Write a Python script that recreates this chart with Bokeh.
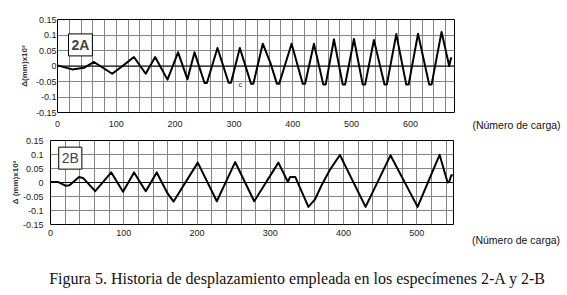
from bokeh.plotting import figure
from bokeh.layouts import column, row
from bokeh.models import Range1d, Span, Label, FixedTicker
from bokeh.core.properties import value
from bokeh.embed import file_html
from bokeh.resources import INLINE

# ---- data ----
a_x = [0, 25, 45, 62, 93, 112, 130, 150, 166, 187, 205, 221, 233, 250, 254, 272, 291, 295,
       310, 329, 333, 349, 362, 373, 377, 398, 417, 421, 436, 452, 456, 470, 485, 489, 504,
       519, 523, 538, 556, 560, 576, 593, 597, 613, 632, 636, 653, 666, 669, 671]
a_y = [0.002, -0.011, -0.006, 0.013, -0.025, 0.002, 0.029, -0.025, 0.029, -0.044, 0.044,
       -0.043, 0.044, -0.055, -0.055, 0.058, -0.054, -0.054, 0.058, -0.057, -0.057, 0.072,
       0.010, -0.057, -0.057, 0.072, -0.057, -0.057, 0.072, -0.060, -0.060, 0.086, -0.060,
       -0.060, 0.087, -0.060, -0.060, 0.084, -0.060, -0.060, 0.103, -0.060, -0.060, 0.104,
       -0.060, -0.060, 0.110, 0.000, 0.025, 0.025]

b_x = [0, 10, 21, 26, 39, 45, 61, 83, 99, 114, 130, 145, 160, 168, 201, 227, 252, 278,
       311, 324, 327, 334, 352, 361, 370, 381, 395, 430, 464, 501, 531, 542, 544, 547, 549]
b_y = [0.002, 0.002, -0.012, -0.010, 0.020, 0.015, -0.031, 0.036, -0.033, 0.036, -0.031,
       0.036, -0.040, -0.068, 0.071, -0.067, 0.073, -0.067, 0.071, 0.002, 0.020, 0.020,
       -0.087, -0.060, -0.010, 0.044, 0.098, -0.087, 0.097, -0.087, 0.099, 0.000, 0.002,
       0.026, 0.026]

x_ticks_a = [0, 100, 200, 300, 400, 500, 600]
x_ticks_b = [0, 100, 200, 300, 400, 500]
y_ticks = [-0.15, -0.1, -0.05, 0, 0.05, 0.1, 0.15]
y_tick_labels = ["-0.15", "-0.1", "-0.05", "0", "0.05", "0.1", "0.15"]
x_label = "(Número de carga)"
caption = "Figura 5. Historia de desplazamiento empleada en los especímenes 2-A y 2-B"

FONT = "Liberation Sans"


def make_panel(xs, ys, xmax, xticks, width, height, bl, br, bt, bb, ylab,
               lab_standoff, title_standoff, x_standoff):
    p = figure(width=width, height=height, output_backend="svg", toolbar_location=None,
               x_range=Range1d(0, xmax), y_range=Range1d(-0.15, 0.15),
               min_border_left=bl, min_border_right=br, min_border_top=bt, min_border_bottom=bb)
    p.outline_line_color = "black"
    p.outline_line_width = 1
    p.background_fill_color = "white"
    p.border_fill_color = "white"
    grid_x = list(range(0, int(xmax) + 1, 20))
    p.xgrid.ticker = FixedTicker(ticks=grid_x)
    p.ygrid.ticker = FixedTicker(ticks=y_ticks)
    for g in (p.xgrid[0], p.ygrid[0]):
        g.grid_line_color = "#858585"
        g.grid_line_width = 1
    p.xaxis.ticker = FixedTicker(ticks=xticks)
    p.yaxis.ticker = FixedTicker(ticks=y_ticks)
    p.yaxis.major_label_overrides = {t: s for t, s in zip(y_ticks, y_tick_labels)}
    for ax in (p.xaxis[0], p.yaxis[0]):
        ax.axis_line_color = None
        ax.major_tick_line_color = None
        ax.minor_tick_line_color = None
        ax.major_tick_out = 0
        ax.major_tick_in = 0
        ax.major_label_text_font = FONT
        ax.major_label_text_font_size = "9px"
        ax.major_label_text_color = "#222222"
    p.xaxis.major_label_standoff = x_standoff
    p.yaxis.major_label_standoff = lab_standoff
    p.yaxis.axis_label = ylab
    p.yaxis.axis_label_text_font = FONT
    p.yaxis.axis_label_text_font_size = "8px"
    p.yaxis.axis_label_text_font_style = "bold"
    p.yaxis.axis_label_text_color = "#333333"
    p.yaxis.axis_label_standoff = title_standoff
    p.add_layout(Span(location=0, dimension="width", line_color="black", line_width=1))
    p.line(xs, ys, line_color="black", line_width=2, line_join="round")
    return p


def side_label(width, height, bl, bt, bb, standoff):
    # a blank plot whose bottom axis carries only its axis label
    t = figure(width=width, height=height, output_backend="svg", toolbar_location=None,
               x_range=Range1d(0, 1), y_range=Range1d(0, 1), y_axis_location=None,
               min_border_left=bl, min_border_right=0, min_border_top=bt, min_border_bottom=bb,
               outline_line_color=None)
    t.grid.visible = False
    t.background_fill_color = "white"
    t.border_fill_color = "white"
    ax = t.xaxis[0]
    ax.ticker = FixedTicker(ticks=[])
    ax.axis_line_color = None
    ax.major_tick_line_color = None
    ax.minor_tick_line_color = None
    ax.major_tick_out = 0
    ax.major_label_standoff = 0
    ax.axis_label = x_label
    ax.axis_label_text_font = FONT
    ax.axis_label_text_font_size = "10.5px"
    ax.axis_label_text_font_style = "normal"
    ax.axis_label_text_color = "#111111"
    ax.axis_label_standoff = standoff
    return t


def caption_panel(width, height, tx, ty):
    t = figure(width=width, height=height, output_backend="svg", toolbar_location=None,
               x_range=Range1d(0, width), y_range=Range1d(height, 0),
               x_axis_location=None, y_axis_location=None,
               min_border=0, outline_line_color=None)
    t.grid.visible = False
    t.background_fill_color = "white"
    t.border_fill_color = "white"
    t.text(x=[tx], y=[ty], text=[caption], text_font=value("Liberation Serif"),
           text_font_size="16px", text_align="center", text_baseline="middle",
           text_color="#111111")
    return t


p1 = make_panel(a_x, a_y, 675, x_ticks_a, 456, 135, 57, 2, 19, 23, "Δ(mm)x10³", 1, 4, 8)
p2 = make_panel(b_x, b_y, 550, x_ticks_b, 455, 115, 50, 2, 5, 26, "Δ (mm)x10³", 7, 0, 5)

# label boxes
p1.add_layout(Label(x=39, y=0.068, text="2A", text_font=FONT, text_font_size="14px",
                    text_font_style="bold", text_align="center", text_baseline="middle",
                    background_fill_color="white", border_line_color="black",
                    border_line_width=1, padding=3))
p2.add_layout(Label(x=27, y=0.087, text="2B", text_font=FONT, text_font_size="14px",
                    text_align="center", text_baseline="middle",
                    background_fill_color="white", border_line_color="black",
                    border_line_width=1, padding=3))
p1.add_layout(Label(x=311, y=-0.059, text="c", text_font=FONT, text_font_size="8px",
                    text_align="center", text_baseline="middle", text_color="#333333"))

t1 = side_label(111, 135, 9, 19, 23, 6)
t2 = side_label(112, 115, 9, 5, 26, 9)
t3 = caption_panel(567, 45, 297, 28)

layout = column(row(p1, t1, spacing=0), row(p2, t2, spacing=0), t3, spacing=0)
open("out.html", "w").write(file_html(layout, INLINE))
